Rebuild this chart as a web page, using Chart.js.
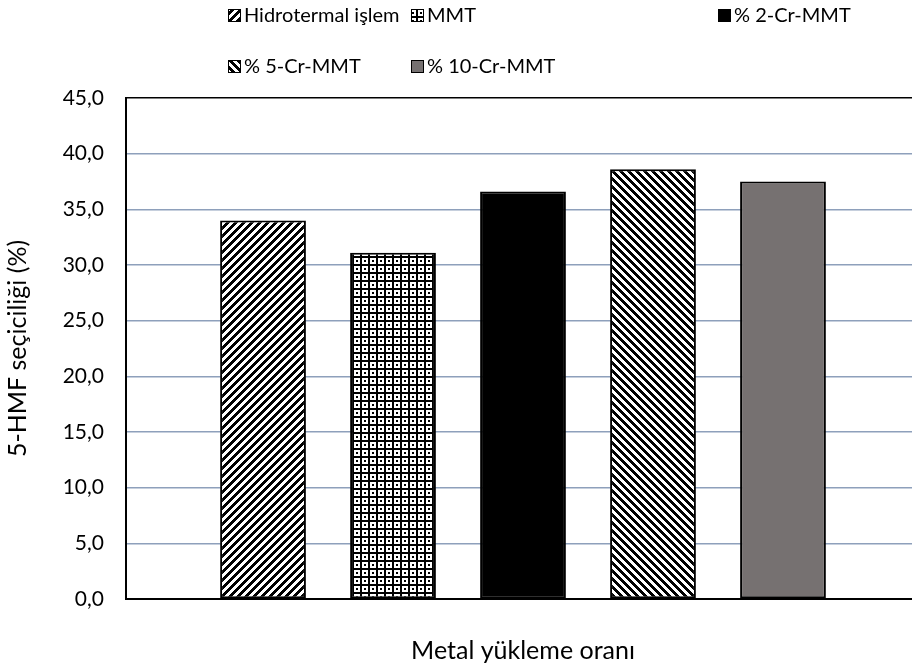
<!DOCTYPE html>
<html>
<head>
<meta charset="utf-8">
<script src="https://cdn.jsdelivr.net/npm/chart.js@4.4.1/dist/chart.umd.min.js"></script>
<style>
html, body { margin: 0; padding: 0; overflow: hidden; background: #fff; }
#wrap { width: 930px; height: 666px; position: relative; }
</style>
</head>
<body>
<div id="wrap"><canvas id="chart"></canvas></div>
<script>
// data
const categories = [''];
const seriesNames = ['Hidrotermal işlem', 'MMT', '% 2-Cr-MMT', '% 5-Cr-MMT', '% 10-Cr-MMT'];
const values = [34.0, 31.1, 36.6, 38.6, 37.5];
const yTitle = '5-HMF seçiciliği (%)';
const xTitle = 'Metal yükleme oranı';

// fill patterns (Excel-like)
function makePattern(rows, scale) {
  const c = document.createElement('canvas');
  c.width = rows[0].length * scale;
  c.height = rows.length * scale;
  const g = c.getContext('2d');
  g.fillStyle = '#fff';
  g.fillRect(0, 0, c.width, c.height);
  g.fillStyle = '#000';
  rows.forEach((r, y) => {
    for (let x = 0; x < r.length; x++) {
      if (r[x] === '#') g.fillRect(x * scale, y * scale, scale, scale);
    }
  });
  return g.createPattern(c, 'repeat');
}

const upDiag = makePattern([
  '####....',
  '###....#',
  '##....##',
  '#....###',
  '....####',
  '...####.',
  '..####..',
  '.####...'
], 1);
const downDiag = makePattern([
  '####....',
  '.####...',
  '..####..',
  '...####.',
  '....####',
  '#....###',
  '##....##',
  '###....#'
], 1);
const dotGrid = makePattern([
  '####',
  '#...',
  '#.#.',
  '#...'
], 2);

const fills = [upDiag, dotGrid, '#000000', downDiag, '#767171'];

const legendCols = [228, 411, 718];
const legendRows = [15, 66];

const customLegend = {
  id: 'customLegend',
  afterDraw(chart) {
    const ctx = chart.ctx;
    ctx.save();
    ctx.font = '20px Lato';
    ctx.textBaseline = 'middle';
    chart.data.datasets.forEach((ds, i) => {
      const x = legendCols[i % 3];
      const y = legendRows[Math.floor(i / 3)];
      ctx.fillStyle = ds.backgroundColor;
      ctx.fillRect(x, y - 6, 13, 13);
      ctx.strokeStyle = '#000';
      ctx.lineWidth = 1;
      ctx.strokeRect(x + 0.5, y - 5.5, 12, 12);
      ctx.fillStyle = '#000';
      ctx.fillText(ds.label, x + 16, y + 1);
    });
    ctx.restore();
  }
};

new Chart(document.getElementById('chart'), {
  type: 'bar',
  data: {
    labels: categories,
    datasets: seriesNames.map((name, i) => ({
      label: name,
      data: [values[i]],
      backgroundColor: fills[i],
      borderColor: '#000',
      borderWidth: 2,
      borderSkipped: false,
      categoryPercentage: 0.8186,
      barPercentage: 0.66
    }))
  },
  options: {
    responsive: true,
    maintainAspectRatio: false,
    animation: false,
    layout: { padding: { top: 98, right: 10, left: 0, bottom: 0 } },
    plugins: {
      legend: { display: false },
      tooltip: { enabled: false }
    },
    scales: {
      x: {
        grid: { display: false },
        border: { color: '#000', width: 2 },
        ticks: { display: false },
        title: {
          display: true,
          text: xTitle,
          color: '#000',
          font: { family: 'Lato', size: 25 },
          padding: { top: 0, bottom: 0 }
        },
        afterFit(s) { s.height = 67; }
      },
      y: {
        min: 0,
        max: 45,
        ticks: {
          stepSize: 5,
          padding: 22,
          color: '#000',
          font: { family: 'Lato', size: 21 },
          callback: v => v.toFixed(1).replace('.', ',')
        },
        grid: {
          drawTicks: false,
          lineWidth: 1.5,
          color: c => (c.tick && (c.tick.value === 45 || c.tick.value === 0)) ? '#000' : '#8ea0bb'
        },
        border: { color: '#000', width: 2 },
        title: {
          display: true,
          text: yTitle,
          color: '#000',
          font: { family: 'Lato', size: 25 },
          padding: { top: 3, bottom: 0 }
        },
        afterFit(s) { s.width = 126; }
      }
    }
  },
  plugins: [customLegend]
});
</script>
</body>
</html>
